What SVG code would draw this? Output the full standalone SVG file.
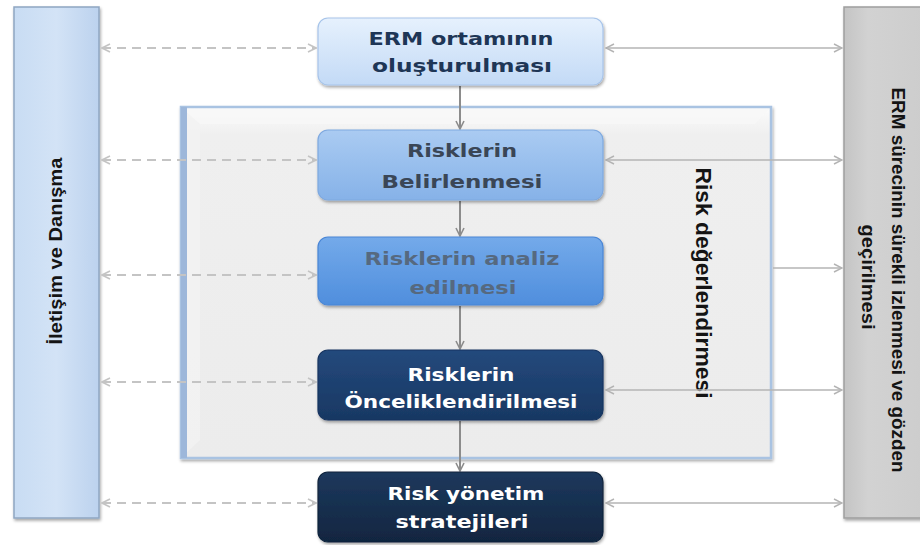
<svg xmlns="http://www.w3.org/2000/svg" width="920" height="545" viewBox="0 0 920 545">
<defs>
<style>
.bt{font-family:"DejaVu Sans",Verdana,sans-serif;font-weight:bold;font-size:17px;text-anchor:middle}
.side{font-family:"Liberation Sans",Arial,sans-serif;font-weight:bold;text-anchor:middle;fill:#141414}
.dash{stroke:#c4c4c4;stroke-width:2;stroke-dasharray:9 6;fill:none;marker-start:url(#hl);marker-end:url(#hl)}
.sol{stroke:#b4b4b4;stroke-width:1.6;fill:none;marker-start:url(#hs);marker-end:url(#hs)}
.down{stroke:#8c8c8c;stroke-width:2;fill:none;marker-end:url(#hd)}
</style>
<marker id="hl" viewBox="0 0 10 10" refX="9" refY="5" markerWidth="10" markerHeight="10" markerUnits="userSpaceOnUse" orient="auto-start-reverse"><path d="M1,1 L9,5 L1,9" fill="none" stroke="#c4c4c4" stroke-width="1.6"/></marker>
<marker id="hs" viewBox="0 0 10 10" refX="9" refY="5" markerWidth="10" markerHeight="10" markerUnits="userSpaceOnUse" orient="auto-start-reverse"><path d="M1,1 L9,5 L1,9" fill="none" stroke="#b4b4b4" stroke-width="1.5"/></marker>
<marker id="hd" viewBox="0 0 10 10" refX="9" refY="5" markerWidth="10" markerHeight="10" markerUnits="userSpaceOnUse" orient="auto"><path d="M1,1 L9,5 L1,9" fill="none" stroke="#8c8c8c" stroke-width="1.6"/></marker>
<filter id="sh" x="-10%" y="-10%" width="120%" height="130%"><feDropShadow dx="1" dy="2" stdDeviation="1.5" flood-color="#000" flood-opacity="0.35"/></filter>
<linearGradient id="g1" x1="0" y1="0" x2="0" y2="1"><stop offset="0" stop-color="#e6f1fd"/><stop offset="1" stop-color="#c3daf6"/></linearGradient>
<linearGradient id="g2" x1="0" y1="0" x2="0" y2="1"><stop offset="0" stop-color="#aacbf2"/><stop offset="1" stop-color="#86b2e8"/></linearGradient>
<linearGradient id="g3" x1="0" y1="0" x2="0" y2="1"><stop offset="0" stop-color="#74aaea"/><stop offset="1" stop-color="#4f8edd"/></linearGradient>
<linearGradient id="g4" x1="0" y1="0" x2="0" y2="1"><stop offset="0" stop-color="#24497c"/><stop offset="1" stop-color="#183863"/></linearGradient>
<linearGradient id="g5" x1="0" y1="0" x2="0" y2="1"><stop offset="0" stop-color="#1d385d"/><stop offset="1" stop-color="#112640"/></linearGradient>
<linearGradient id="gl" x1="0" y1="0" x2="1" y2="0"><stop offset="0" stop-color="#c8dcf3"/><stop offset="0.5" stop-color="#d3e3f6"/><stop offset="1" stop-color="#bcd2ee"/></linearGradient>
<linearGradient id="gr" x1="0" y1="0" x2="1" y2="0"><stop offset="0" stop-color="#c4c4c4"/><stop offset="0.3" stop-color="#d2d2d2"/><stop offset="1" stop-color="#cdcdcd"/></linearGradient>
<linearGradient id="gf" x1="0" y1="0" x2="0" y2="1"><stop offset="0" stop-color="#fbfbfb"/><stop offset="0.08" stop-color="#efefef"/><stop offset="1" stop-color="#ececec"/></linearGradient>
</defs>
<rect x="0" y="0" width="920" height="545" fill="#ffffff"/>

<g id="iletisim">
<rect x="14" y="7" width="85" height="511" fill="url(#gl)" stroke="#8fa6c2" stroke-width="1.5" filter="url(#sh)"/>
<text class="side" font-size="19" textLength="187" lengthAdjust="spacingAndGlyphs" transform="translate(62,251) rotate(-90)">İletişim ve Danışma</text>
</g>

<g id="izleme">
<rect x="844" y="7" width="80" height="511" fill="url(#gr)" stroke="#9e9e9e" stroke-width="1.5" filter="url(#sh)"/>
<text class="side" font-size="17.5" textLength="385" lengthAdjust="spacingAndGlyphs" transform="translate(892,280) rotate(90)">ERM sürecinin sürekli izlenmesi ve gözden</text>
<text class="side" font-size="17.5" textLength="105" lengthAdjust="spacingAndGlyphs" transform="translate(862,277) rotate(90)">geçirilmesi</text>
</g>

<g id="degerlendirme">
<rect x="181" y="107" width="590" height="351" fill="url(#gf)" stroke="#a9c3e2" stroke-width="2.5" filter="url(#sh)"/>
<polygon points="183,109 769,109 755,124 200,124" fill="#f8f8f8" opacity="0.8"/>
<polygon points="183,109 200,124 200,440 183,456" fill="#f3f3f3" opacity="0.8"/>
<rect x="181" y="107" width="6" height="351" fill="#9db7da"/>
<text class="side" font-size="22" textLength="231" lengthAdjust="spacingAndGlyphs" transform="translate(696,283) rotate(90)">Risk değerlendirmesi</text>
</g>

<g id="connectors">
<line class="dash" x1="102" y1="48" x2="316" y2="48"/>
<line class="dash" x1="102" y1="160" x2="316" y2="160"/>
<line class="dash" x1="102" y1="275" x2="316" y2="275"/>
<line class="dash" x1="102" y1="382" x2="316" y2="382"/>
<line class="dash" x1="102" y1="503" x2="316" y2="503"/>
<line class="sol" x1="606" y1="48" x2="842" y2="48"/>
<line class="sol" x1="606" y1="160" x2="842" y2="160"/>
<line x1="773" y1="268" x2="842" y2="268" stroke="#b4b4b4" stroke-width="1.6" marker-end="url(#hs)"/>
<line class="sol" x1="606" y1="390" x2="842" y2="390"/>
<line class="sol" x1="606" y1="503" x2="842" y2="503"/>
<line class="down" x1="460" y1="86" x2="460" y2="129"/>
<line class="down" x1="460" y1="201" x2="460" y2="236"/>
<line class="down" x1="460" y1="306" x2="460" y2="349"/>
<line class="down" x1="460" y1="421" x2="460" y2="471"/>
</g>

<g id="erm">
<rect x="318" y="18" width="285" height="67" rx="10" fill="url(#g1)" stroke="#a7c4ea" stroke-width="1.2" filter="url(#sh)"/>
<text class="bt" x="461" y="45" fill="#1e3656" textLength="185" lengthAdjust="spacingAndGlyphs">ERM ortamının</text>
<text class="bt" x="462" y="72" fill="#1e3656" textLength="180" lengthAdjust="spacingAndGlyphs">oluşturulması</text>
</g>

<g id="belirleme">
<rect x="318" y="130" width="285" height="70" rx="10" fill="url(#g2)" stroke="#7ea9e0" stroke-width="1.2" filter="url(#sh)"/>
<text class="bt" x="462" y="157" fill="#3a4656" textLength="110" lengthAdjust="spacingAndGlyphs">Risklerin</text>
<text class="bt" x="462" y="188" fill="#3a4656" textLength="161" lengthAdjust="spacingAndGlyphs">Belirlenmesi</text>
</g>

<g id="analiz">
<rect x="318" y="237" width="285" height="68" rx="10" fill="url(#g3)" stroke="#4a86d6" stroke-width="1.2" filter="url(#sh)"/>
<text class="bt" x="462" y="265" fill="#56697f" textLength="195" lengthAdjust="spacingAndGlyphs">Risklerin analiz</text>
<text class="bt" x="463" y="294" fill="#56697f" textLength="107" lengthAdjust="spacingAndGlyphs">edilmesi</text>
</g>

<g id="oncelik">
<rect x="318" y="350" width="285" height="70" rx="10" fill="url(#g4)" stroke="#183560" stroke-width="1.2" filter="url(#sh)"/>
<text class="bt" x="461" y="381" fill="#ffffff" textLength="107" lengthAdjust="spacingAndGlyphs">Risklerin</text>
<text class="bt" x="461" y="408" fill="#ffffff" textLength="233" lengthAdjust="spacingAndGlyphs">Önceliklendirilmesi</text>
</g>

<g id="strateji">
<rect x="318" y="472" width="285" height="70" rx="10" fill="url(#g5)" stroke="#0f233c" stroke-width="1.2" filter="url(#sh)"/>
<text class="bt" x="466" y="500" fill="#ffffff" textLength="157" lengthAdjust="spacingAndGlyphs">Risk yönetim</text>
<text class="bt" x="462" y="528" fill="#ffffff" textLength="133" lengthAdjust="spacingAndGlyphs">stratejileri</text>
</g>
</svg>
